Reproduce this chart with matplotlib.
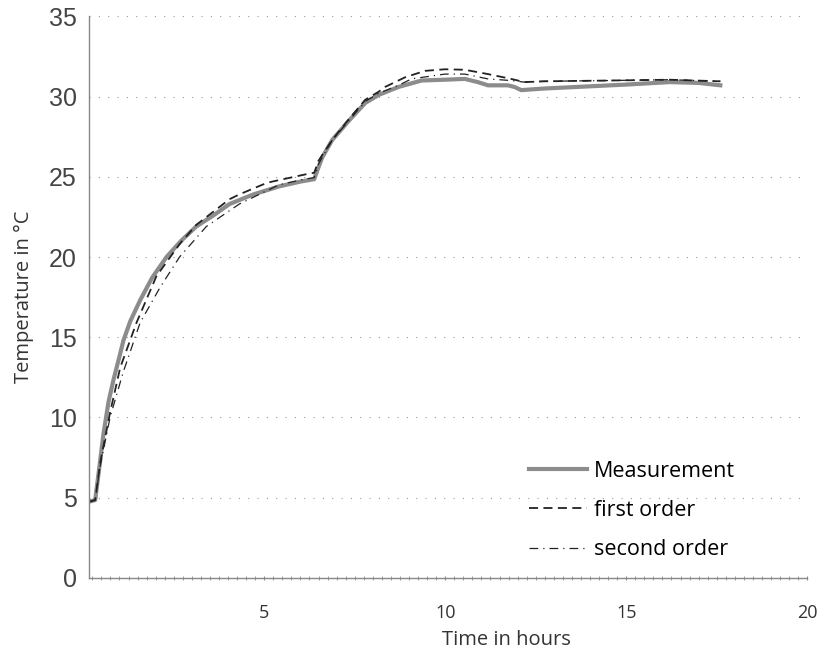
from matplotlib import pyplot as plt
from matplotlib.ticker import MultipleLocator

plt.rcParams['font.family'] = ['Open Sans', 'DejaVu Sans']

# measured temperature (hours, deg C)
meas_t = [0.16, 0.33, 0.45, 0.56, 0.70, 0.83, 1.00, 1.11, 1.30, 1.57, 1.90, 2.30, 2.70, 3.12, 3.60,
          4.04, 4.70, 5.41, 6.00, 6.38, 6.45, 6.60, 6.88, 7.34, 7.79, 8.16, 8.71, 9.35, 9.99, 10.54,
          10.90, 11.18, 11.73, 11.91, 12.10, 12.73, 13.65, 15.03, 16.20, 17.00, 17.60]
meas_v = [4.75, 4.85, 7.0, 9.0, 11.0, 12.3, 13.8, 14.8, 16.0, 17.3, 18.7, 20.0, 21.0, 21.9, 22.6,
          23.3, 23.9, 24.4, 24.7, 24.85, 25.3, 26.2, 27.3, 28.5, 29.6, 30.1, 30.6, 31.0, 31.05, 31.1,
          30.9, 30.7, 30.7, 30.6, 30.4, 30.5, 30.6, 30.75, 30.9, 30.85, 30.7]

# first order model
first_t = [0.16, 0.33, 0.47, 0.74, 1.02, 1.47, 2.02, 2.66, 3.12, 4.04, 4.31, 5.05, 5.22, 6.14, 6.38,
           6.50, 6.88, 7.34, 7.79, 8.16, 8.34, 8.89, 9.44, 9.99, 10.54, 11.18, 11.82, 12.19, 12.73,
           14.57, 16.20, 17.60]
first_v = [4.75, 4.85, 7.2, 10.3, 13.1, 15.9, 18.8, 20.8, 22.0, 23.6, 23.9, 24.6, 24.7, 25.15, 25.25,
           26.0, 27.3, 28.6, 29.8, 30.3, 30.6, 31.2, 31.6, 31.7, 31.67, 31.4, 31.1, 30.9, 30.95,
           31.0, 31.05, 30.95]

# second order model
second_t = [0.16, 0.33, 0.47, 0.74, 1.10, 1.57, 2.12, 2.66, 3.40, 4.31, 5.41, 6.00, 6.38, 6.50, 6.88,
            7.34, 7.79, 8.16, 8.71, 9.07, 9.99, 10.54, 11.18, 11.80, 12.19, 12.73, 14.57, 16.20, 17.60]
second_v = [4.75, 4.85, 7.0, 10.0, 12.8, 15.9, 18.1, 20.0, 21.9, 23.3, 24.5, 24.8, 24.95, 25.8, 27.3,
            28.5, 29.7, 30.2, 30.7, 31.1, 31.4, 31.4, 31.1, 31.0, 30.9, 30.95, 31.0, 31.05, 30.95]

fig = plt.figure(figsize=(8.17, 6.53), dpi=100)
ax = fig.add_axes([0.109, 0.115, 0.879, 0.860])

ax.plot(meas_t, meas_v, color='#8c8c8c', lw=3, label='Measurement', solid_joinstyle='round')
ax.plot(first_t, first_v, color='#222222', lw=1.3, dashes=(5, 3), label='first order')
ax.plot(second_t, second_v, color='#222222', lw=0.9, dashes=(7, 4, 1, 4), label='second order')

ax.set_xlim(0.16, 20)
ax.set_ylim(0, 35)
ax.xaxis.set_major_locator(MultipleLocator(5))
ax.xaxis.set_minor_locator(MultipleLocator(0.25))
ax.yaxis.set_major_locator(MultipleLocator(5))

ax.grid(axis='y', color='#999999', lw=0.8, linestyle=(0, (1, 7.4)))
ax.set_axisbelow(True)
for s in ['top', 'right']:
    ax.spines[s].set_visible(False)
for s in ['left', 'bottom']:
    ax.spines[s].set_color('#888888')
    ax.spines[s].set_linewidth(1)

ax.tick_params(axis='y', length=0, labelsize=18, labelcolor='#444444', pad=9)
for lbl in ax.get_yticklabels():
    lbl.set_family('Liberation Sans')
ax.tick_params(axis='x', which='both', direction='inout', length=3, color='#888888',
               labelsize=13, labelcolor='#333333', pad=17)

ax.set_xlabel('Time in hours', fontsize=14.5, color='#333333')
ax.xaxis.set_label_coords(0.581, -0.093)
ax.set_ylabel('Temperature in °C', fontsize=14.5, color='#333333')
ax.yaxis.set_label_coords(-0.077, 0.5)

ax.legend(loc='lower right', bbox_to_anchor=(0.926, -0.003), frameon=False, fontsize=15.5,
          handlelength=2.7, handletextpad=0.3, labelspacing=0.85)

fig.savefig('out.png', dpi=100)
